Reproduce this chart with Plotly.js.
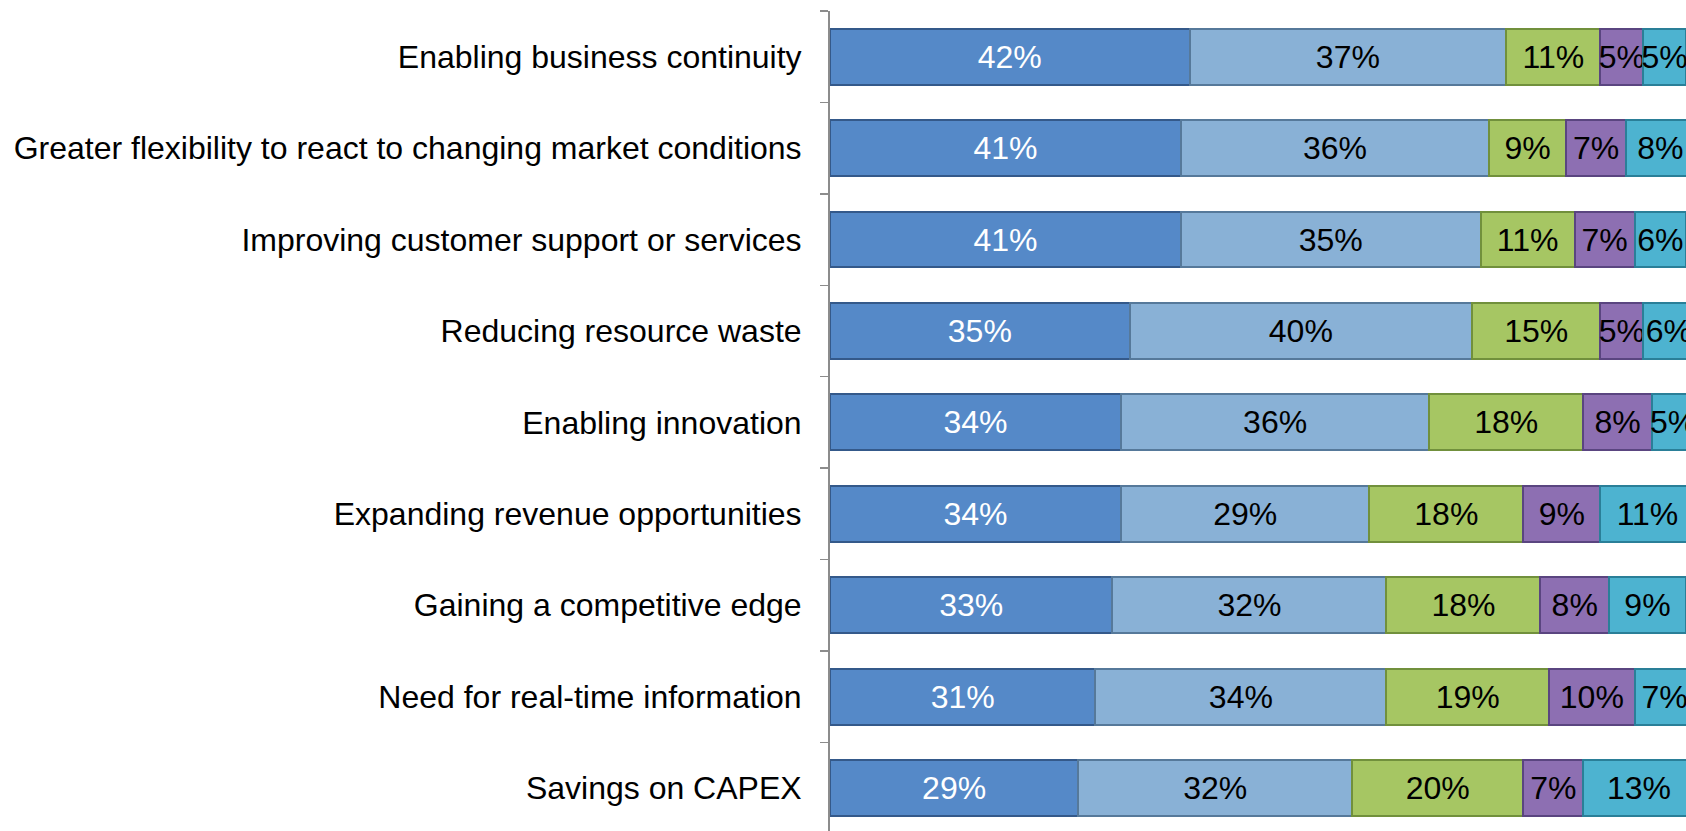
<!DOCTYPE html>
<html>
<head>
<meta charset="utf-8">
<script src="https://cdn.plot.ly/plotly-3.0.1.min.js"></script>
<style>html,body{margin:0;padding:0;background:#fff;}#chart{width:1686px;height:831px;}</style>
</head>
<body>
<div id="chart"></div>
<script>
const categories = [
  "Enabling business continuity",
  "Greater flexibility to react to changing market conditions",
  "Improving customer support or services",
  "Reducing resource waste",
  "Enabling innovation",
  "Expanding revenue opportunities",
  "Gaining a competitive edge",
  "Need for real-time information",
  "Savings on CAPEX"
];
const series1 = [42, 41, 41, 35, 34, 34, 33, 31, 29];
const series2 = [37, 36, 35, 40, 36, 29, 32, 34, 32];
const series3 = [11, 9, 11, 15, 18, 18, 18, 19, 20];
const series4 = [5, 7, 7, 5, 8, 9, 8, 10, 7];
const series5 = [5, 8, 6, 6, 5, 11, 9, 7, 13];
const seriesList = [series1, series2, series3, series4, series5];
const colors = ["#5589C8", "#89B1D6", "#A6C663", "#8D6FB2", "#4DB3D0"];
const lineColors = ["#34598A", "#56799A", "#71903C", "#5A4580", "#2A7F98"];
const textColors = ["#ffffff", "#000000", "#000000", "#000000", "#000000"];

const traces = seriesList.map((vals, i) => ({
  type: "bar",
  orientation: "h",
  y: categories,
  x: vals,
  text: vals.map(v => v + "%"),
  textposition: "inside",
  insidetextanchor: "middle",
  constraintext: "none",
  textangle: 0,
  insidetextfont: {family: "Liberation Sans, Arial, sans-serif", size: 32, color: textColors[i]},
  hoverinfo: "none",
  marker: {color: colors[i], line: {color: lineColors[i], width: 2}},
  showlegend: false
}));

const layout = {
  width: 1686,
  height: 831,
  margin: {l: 830, r: 0, t: 11, b: 0},
  barmode: "stack",
  bargap: 0.39,
  paper_bgcolor: "#ffffff",
  plot_bgcolor: "#ffffff",
  font: {family: "Liberation Sans, Arial, sans-serif", size: 32, color: "#000000"},
  xaxis: {
    range: [0, 100],
    visible: false,
    showgrid: false,
    zeroline: false
  },
  yaxis: {
    type: "category",
    range: [8.47, -0.5],
    showline: true,
    linecolor: "#8c8c8c",
    linewidth: 2,
    ticks: "outside",
    tickson: "boundaries",
    ticklen: 8,
    tickwidth: 1.5,
    tickcolor: "#8c8c8c",
    ticklabelstandoff: 20,
    showgrid: false,
    zeroline: false,
    tickfont: {family: "Liberation Sans, Arial, sans-serif", size: 32, color: "#000000"}
  }
};

Plotly.newPlot("chart", traces, layout, {displayModeBar: false, staticPlot: true});
</script>
</body>
</html>
